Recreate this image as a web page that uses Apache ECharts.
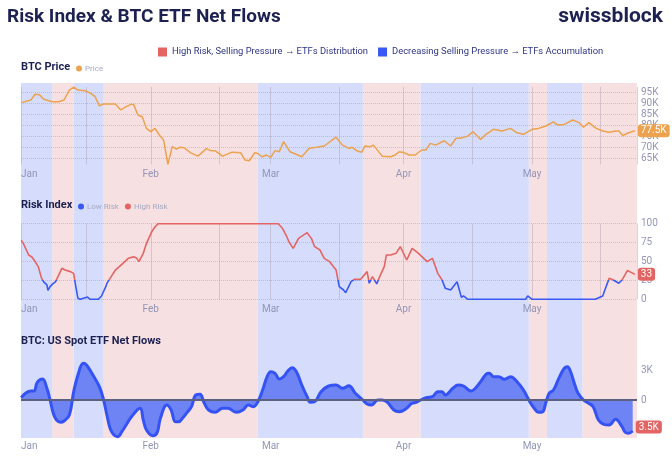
<!DOCTYPE html>
<html><head><meta charset="utf-8">
<script src="https://cdn.jsdelivr.net/npm/echarts@6/dist/echarts.min.js"></script>
<style>html,body{margin:0;padding:0;background:#fff}#c{width:672px;height:457px}</style>
</head><body><div id="c"></div>
<script>
const YEAR = '2025';
const monthNames = ['Jan','Feb','Mar','Apr','May','Jun','Jul','Aug','Sep','Oct','Nov','Dec'];
const axisStart = '01-01 17', axisEnd = '05-25 12';

// Regime bands (start, end)
const highRiskBands = [['01-09','01-14'],['01-21','02-26'],['03-22 12','04-05'],['04-30 06','05-04 12'],['05-12 18','05-25 12']];
const lowRiskBands  = [['01-01 17','01-09'],['01-14','01-21'],['02-26','03-22 12'],['04-05','04-30 06'],['05-04 12','05-12 18']];

// BTC price, thousands USD
const price = [
 ['01-01 18',90.3],['01-04',91.5],['01-05',94.1],['01-06',93.9],['01-07',91.8],['01-09',90.7],['01-10 12',90.7],['01-11 18',91.5],
 ['01-13',96.0],['01-14',97.3],['01-15',96.0],['01-16 18',95.7],['01-18',94.5],['01-19',93.0],['01-20',88.8],['01-21',89.7],
 ['01-23 18',89.7],['01-25',87.0],['01-26 06',88.5],['01-27 12',89.6],['01-28',89.4],['01-29',84.7],['01-30',83.9],['01-31',78.6],
 ['02-01',77.1],['02-02',78.6],['02-03',75.6],['02-04',73.3],['02-05',62.3],['02-06',70.3],['02-07',69.2],['02-07 18',70.0],
 ['02-08 18',69.8],['02-10 06',67.6],['02-12',66.0],['02-14',69.4],['02-15',68.5],['02-16',68.5],['02-17 18',66.0],['02-20',67.8],
 ['02-22',67.5],['02-23',64.2],['02-24',63.9],['02-25 06',67.5],['02-26',67.2],['02-27',65.7],['02-28',66.5],['03-01',65.4],
 ['03-02',68.5],['03-03',68.0],['03-04',72.6],['03-05 12',68.0],['03-06 12',67.2],['03-08 06',65.7],['03-10',69.6],['03-11 18',70.0],
 ['03-13 12',70.6],['03-16 06',74.6],['03-17 18',71.0],['03-19 06',69.5],['03-20',70.0],['03-21 06',68.3],['03-22 06',67.8],['03-23',70.6],
 ['03-24 06',70.3],['03-25',71.0],['03-27',66.0],['03-29',65.7],['03-30',66.5],['03-31',68.0],['04-01',67.7],['04-02 06',66.5],
 ['04-03 18',66.5],['04-05 06',68.8],['04-06 06',68.8],['04-07 06',71.8],['04-08 12',71.0],['04-10 12',73.0],['04-12',70.6],['04-13 06',74.1],
 ['04-14 06',74.1],['04-16',75.1],['04-17 06',77.1],['04-19',73.6],['04-20 06',75.9],['04-22',78.2],['04-24',77.4],['04-26',78.6],
 ['04-27 12',76.6],['04-29',75.9],['05-01',78.2],['05-02 12',78.6],['05-04 06',79.7],['05-06',81.6],['05-07',80.1],['05-08 12',80.4],
 ['05-10 12',82.4],['05-12',81.2],['05-13',79.1],['05-14 06',81.2],['05-16',78.6],['05-17 12',77.4],['05-19',76.8],['05-20 12',77.4],
 ['05-21 06',77.4],['05-22 06',75.3],['05-23 06',76.4],['05-25',77.5]
];
const priceTicks = [65,70,75,80,85,90,95];
const priceLast = '77.5K';

// Risk index 0-100
const risk = [
 ['01-01 18',78],['01-02 06',74],['01-03 12',58.6],['01-04 06',56],['01-05',50],['01-05 18',43],['01-06 12',28],['01-07',23],
 ['01-07 18',19],['01-08',12],['01-08 12',16.7],['01-09 06',21],['01-09 18',23],['01-10 12',32],['01-11 06',41],['01-12',38.8],
 ['01-13 06',36.6],['01-14',34.3],['01-14 12',16.7],['01-15',1.3],['01-15 12',0],['01-17 06',3],['01-17 18',0],['01-19 18',0],
 ['01-20 12',4.4],['01-21 12',16.7],['01-21 18',21],['01-22 12',27.7],['01-23 18',38.7],['01-25 12',47.6],['01-26 18',54.2],['01-28',56.4],
 ['01-28 18',54.2],['01-29 06',49.8],['01-30 06',60.8],['01-31',74],['02-01 06',89.5],['02-02',96],['02-02 18',100],['03-02 18',100],
 ['03-03 18',93.9],['03-04 18',82.8],['03-05 06',76.2],['03-06 06',67.4],['03-07 12',80.6],['03-09 12',88.1],['03-10 12',80.6],['03-11 06',69.6],
 ['03-12 12',65.2],['03-13 12',54.2],['03-14 18',49.8],['03-16 06',38.8],['03-17',16.7],['03-18',12.3],['03-18 12',8.8],['03-19 18',23.3],
 ['03-20 12',26.4],['03-22',26.4],['03-23 12',36.6],['03-24',21.2],['03-24 18',30],['03-25 18',20.3],['03-26 06',27.7],['03-27 12',43.2],
 ['03-28',58.6],['03-29',58.6],['03-30 06',60.8],['03-31 06',69.6],['04-01 18',52],['04-03',67.4],['04-04 12',60.8],['04-06 12',49.8],
 ['04-07 18',54.2],['04-09',34.3],['04-10',25.5],['04-10 18',14.5],['04-12',12.3],['04-13 12',23.3],['04-14 12',2.6],['04-15',4.4],
 ['04-16',0],['04-29 12',0],['04-30',4.4],['05-01',0],['05-15 18',0],['05-17 12',4.4],['05-18',12.3],['05-19',27.7],
 ['05-20',25.5],['05-21 06',21.2],['05-22',25.5],['05-23 06',38],['05-24 06',35.3],['05-25',33]
];
const riskThreshold = 25;
const riskLast = '33';

// US spot ETF net flows, thousands BTC
const flows = [
 ['01-01 18',0.23],['01-02 18',0.67],['01-04',0.9],['01-04 18',0.9],['01-05 12',1.77],['01-06 18',2.1],['01-07 18',1.17],['01-08 12',0],
 ['01-09 06',-1.33],['01-10',-2.0],['01-11',-2.23],['01-11 18',-2.1],['01-13',-1.5],['01-14',0.83],['01-15',2.5],['01-16 06',3.67],
 ['01-17',3.5],['01-18 06',2.67],['01-20',1.33],['01-21',0],['01-21 18',-1.5],['01-22 12',-2.83],['01-23 06',-3.43],['01-24 06',-3.67],
 ['01-25 06',-3.17],['01-26 12',-2.33],['01-27 12',-1.67],['01-29 12',-0.83],['01-30 06',-2.0],['01-31',-3.0],['02-01 12',-3.57],['02-02 12',-3.23],
 ['02-03 06',-1.83],['02-04 18',-0.5],['02-05 18',-1.0],['02-06 18',-2.17],['02-07 12',-2.17],['02-08 12',-1.77],['02-09 12',-1.23],['02-10 12',-0.67],
 ['02-11 12',0.5],['02-12 12',0.57],['02-13 12',-0.33],['02-14 12',-1.0],['02-16',-1.23],['02-17 18',-0.83],['02-19',-0.83],['02-21',-1.23],
 ['02-22 12',-1.0],['02-23 18',-0.5],['02-25',-0.67],['02-26',-0.17],['02-27 06',1.17],['02-28',2.17],['03-01',2.83],['03-02',2.67],
 ['03-03',2.1],['03-04',2.33],['03-05',2.9],['03-06',3.23],['03-07',2.83],['03-08 06',1.5],['03-09 12',0.33],['03-10 06',-0.23],
 ['03-11 06',-0.17],['03-12 18',0.83],['03-14 12',1.4],['03-16 06',1.5],['03-17 18',1.17],['03-19 06',1.43],['03-20 18',0.67],['03-22 12',0],
 ['03-23 12',-0.4],['03-24 12',-0.5],['03-26',0],['03-27',0],['03-28 06',-0.23],['03-29 18',-1.0],['03-31',-1.17],['04-01 12',-0.9],
 ['04-03',-0.33],['04-03 18',-0.27],['04-05',0],['04-06 06',0.23],['04-07 18',0.33],['04-09',0.83],['04-10',0.83],['04-10 18',0.5],
 ['04-12 12',1.17],['04-13 18',1.5],['04-15',1.4],['04-16 18',0.9],['04-17 18',1.17],['04-19',1.83],['04-20 06',2.57],['04-21',2.67],
 ['04-22',2.33],['04-23 06',2.33],['04-24 12',2.07],['04-26',2.33],['04-27 12',1.83],['04-29',1.0],['04-30 06',0],['05-01 12',-0.83],
 ['05-02 12',-1.23],['05-03 12',-1.17],['05-04 06',-0.23],['05-05',0.67],['05-06',1.0],['05-07 06',2.17],['05-08 12',3.17],['05-09 06',3.33],
 ['05-10',2.83],['05-11',1.5],['05-11 18',0.67],['05-13',0],['05-14',-0.27],['05-15 06',-0.67],['05-16 12',-2.0],['05-17 18',-2.43],
 ['05-19',-2.5],['05-20 12',-1.93],['05-22',-2.67],['05-22 18',-3.23],['05-23 12',-3.33],['05-24 12',-3.1]
];
const flowTicks = [-3,0,3];
const flowLast = '3.5K';

const NAV = '#1c2152', LBL = '#9296b8', RED = '#e46464', BLUE = '#3a58f3', ORANGE = '#eca24e';
const FONT = 'Roboto, "Liberation Sans", sans-serif';

function toDate(s){ const p = s.split(' '); return YEAR + '-' + p[0] + ' ' + (p[1] || '00') + ':00'; }
function toTime(s){ return new Date(toDate(s).replace(' ','T')).getTime(); }
const minT = toTime(axisStart), maxT = toTime(axisEnd);
const conv = arr => arr.map(d => [toDate(d[0]), d[1]]);

function monthLabel(v){
  const d = new Date(v);
  if (Math.abs(v - minT) < 3600000) return monthNames[d.getMonth()];
  if (d.getDate() === 1 && d.getHours() === 0) return monthNames[d.getMonth()];
  return '';
}

const gridL = 21, gridR = 35;
const grids = [
  {left:gridL, right:gridR, top:83, height:355},
  {left:gridL, right:gridR, top:87, height:77.5},
  {left:gridL, right:gridR, top:223.7, height:75.6},
  {left:gridL, right:gridR, top:362.5, height:75}
];
function xAx(gi, showLabel, showSplit, margin){
  return {type:'time', gridIndex:gi, min:minT, max:maxT,
    axisLine:{show:false}, axisTick:{show:false},
    axisLabel:{show:showLabel, formatter:monthLabel, color:LBL, fontSize:10, margin:margin, showMinLabel:true,
      alignMinLabel:'left', fontFamily:FONT},
    splitLine:{show:showSplit, lineStyle:{color:'rgba(175,160,185,0.45)', width:1}}};
}
const yLabel = {color:LBL, fontSize:10, margin:4, fontFamily:FONT};
const dotted = {show:true, lineStyle:{color:'rgba(120,125,185,0.35)', type:'dotted', width:1}};

const endLabel = (txt, bg, off) => ({show:true, formatter:txt, color:'#fff', backgroundColor:bg, padding:[2,3,1,3],
  borderRadius:3, fontSize:10, fontFamily:FONT, distance:3, offset:off || [0,0]});

const titleStyle = {fontSize:11, fontWeight:'bold', color:NAV, fontFamily:FONT};
const smallLegendText = {fontSize:8, color:'#a6a9c2', fontFamily:FONT, padding:[0,0,0,-2]};

const option = {
  animation:false,
  textStyle:{fontFamily:FONT},
  title:[
    {text:'Risk Index & BTC ETF Net Flows', left:7, top:8, padding:0, textStyle:{fontSize:19, fontWeight:'bold', color:NAV, fontFamily:FONT}},
    {text:'swissblock', right:9, top:6, padding:0, textStyle:{fontSize:21, fontWeight:'bold', color:NAV, fontFamily:FONT}},
    {text:'BTC Price', left:21, top:62, padding:0, textStyle:titleStyle},
    {text:'Risk Index', left:21, top:199.5, padding:0, textStyle:titleStyle},
    {text:'BTC: US Spot ETF Net Flows', left:21, top:335.5, padding:0, textStyle:titleStyle}
  ],
  legend:[
    {data:['High Risk, Selling Pressure → ETFs Distribution','Decreasing Selling Pressure → ETFs Accumulation'],
     left:158, top:47.5, padding:0, icon:'rect', itemWidth:9, itemHeight:9, itemGap:10, selectedMode:false,
     textStyle:{fontSize:9.4, color:'#2e3585', fontFamily:FONT}},
    {data:['Price'], left:76, top:64.5, padding:0, icon:'circle', itemWidth:6, itemHeight:6, selectedMode:false,
     textStyle:smallLegendText},
    {data:['Low Risk','High Risk'], left:78, top:202.5, padding:0, icon:'circle', itemWidth:6, itemHeight:6, itemGap:6, selectedMode:false,
     textStyle:smallLegendText}
  ],
  grid:grids,
  xAxis:[ xAx(0,false,false,0), xAx(1,true,true,5), xAx(2,true,true,5), xAx(3,true,false,4) ],
  yAxis:[
    {type:'value', gridIndex:0, min:0, max:1, show:false},
    {type:'value', gridIndex:1, position:'right', min:62.2, max:97.4,
      axisLine:{show:false}, axisTick:{show:false, customValues:priceTicks},
      axisLabel:Object.assign({customValues:priceTicks, formatter:v => v + 'K'}, yLabel), splitLine:dotted},
    {type:'value', gridIndex:2, position:'right', min:0, max:100, interval:25,
      axisLine:{show:false}, axisTick:{show:false}, axisLabel:yLabel, splitLine:dotted},
    {type:'value', gridIndex:3, position:'right', min:-3.75, max:3.75,
      axisLine:{show:false}, axisTick:{show:false, customValues:flowTicks},
      axisLabel:Object.assign({customValues:flowTicks, formatter:v => v === 0 ? '0' : v + 'K'}, yLabel), splitLine:{show:false}}
  ],
  visualMap:[{type:'piecewise', show:false, seriesIndex:3, dimension:1,
    pieces:[{min:-100, max:riskThreshold, color:BLUE},{min:riskThreshold, max:200, color:RED}]}],
  series:[
    {name:'High Risk, Selling Pressure → ETFs Distribution', type:'line', xAxisIndex:0, yAxisIndex:0, z:-1,
     data:[[toDate(highRiskBands[0][0]),0]], showSymbol:false, symbol:'none', lineStyle:{opacity:0, color:RED}, itemStyle:{color:RED},
     markArea:{silent:true, z:-1, itemStyle:{color:'#f7e0e1'}, data:highRiskBands.map(b => [{xAxis:toDate(b[0])},{xAxis:toDate(b[1])}])}},
    {name:'Decreasing Selling Pressure → ETFs Accumulation', type:'line', xAxisIndex:0, yAxisIndex:0, z:-1,
     data:[[toDate(lowRiskBands[0][0]),0]], showSymbol:false, symbol:'none', lineStyle:{opacity:0, color:BLUE}, itemStyle:{color:BLUE},
     markArea:{silent:true, z:-1, itemStyle:{color:'#d6dcfb'}, data:lowRiskBands.map(b => [{xAxis:toDate(b[0])},{xAxis:toDate(b[1])}])}},
    {name:'Price', type:'line', xAxisIndex:1, yAxisIndex:1, data:conv(price), symbol:'none',
     lineStyle:{color:ORANGE, width:1.5}, itemStyle:{color:ORANGE}, endLabel:endLabel(priceLast, ORANGE)},
    {name:'Risk Index', type:'line', xAxisIndex:2, yAxisIndex:2, data:conv(risk), symbol:'none',
     lineStyle:{width:1.6}, endLabel:endLabel(riskLast, RED)},
    {name:'Low Risk', type:'line', xAxisIndex:2, yAxisIndex:2, data:[], itemStyle:{color:BLUE}, lineStyle:{color:BLUE}},
    {name:'High Risk', type:'line', xAxisIndex:2, yAxisIndex:2, data:[], itemStyle:{color:RED}, lineStyle:{color:RED}},
    {name:'ETF Net Flows', type:'line', xAxisIndex:3, yAxisIndex:3, data:conv(flows), symbol:'none', smooth:0.4,
     lineStyle:{color:'#3553f5', width:3}, itemStyle:{color:'#3553f5'}, areaStyle:{color:'#6e83f4', opacity:1},
     endLabel:endLabel(flowLast, RED, [0,-4]),
     markLine:{silent:true, symbol:'none', label:{show:false}, lineStyle:{color:'#5c6080', width:2, type:'solid'}, data:[{yAxis:0}]}}
  ]
};
const chart = echarts.init(document.getElementById('c'), null, {renderer:'canvas'});
chart.setOption(option);
</script></body></html>
